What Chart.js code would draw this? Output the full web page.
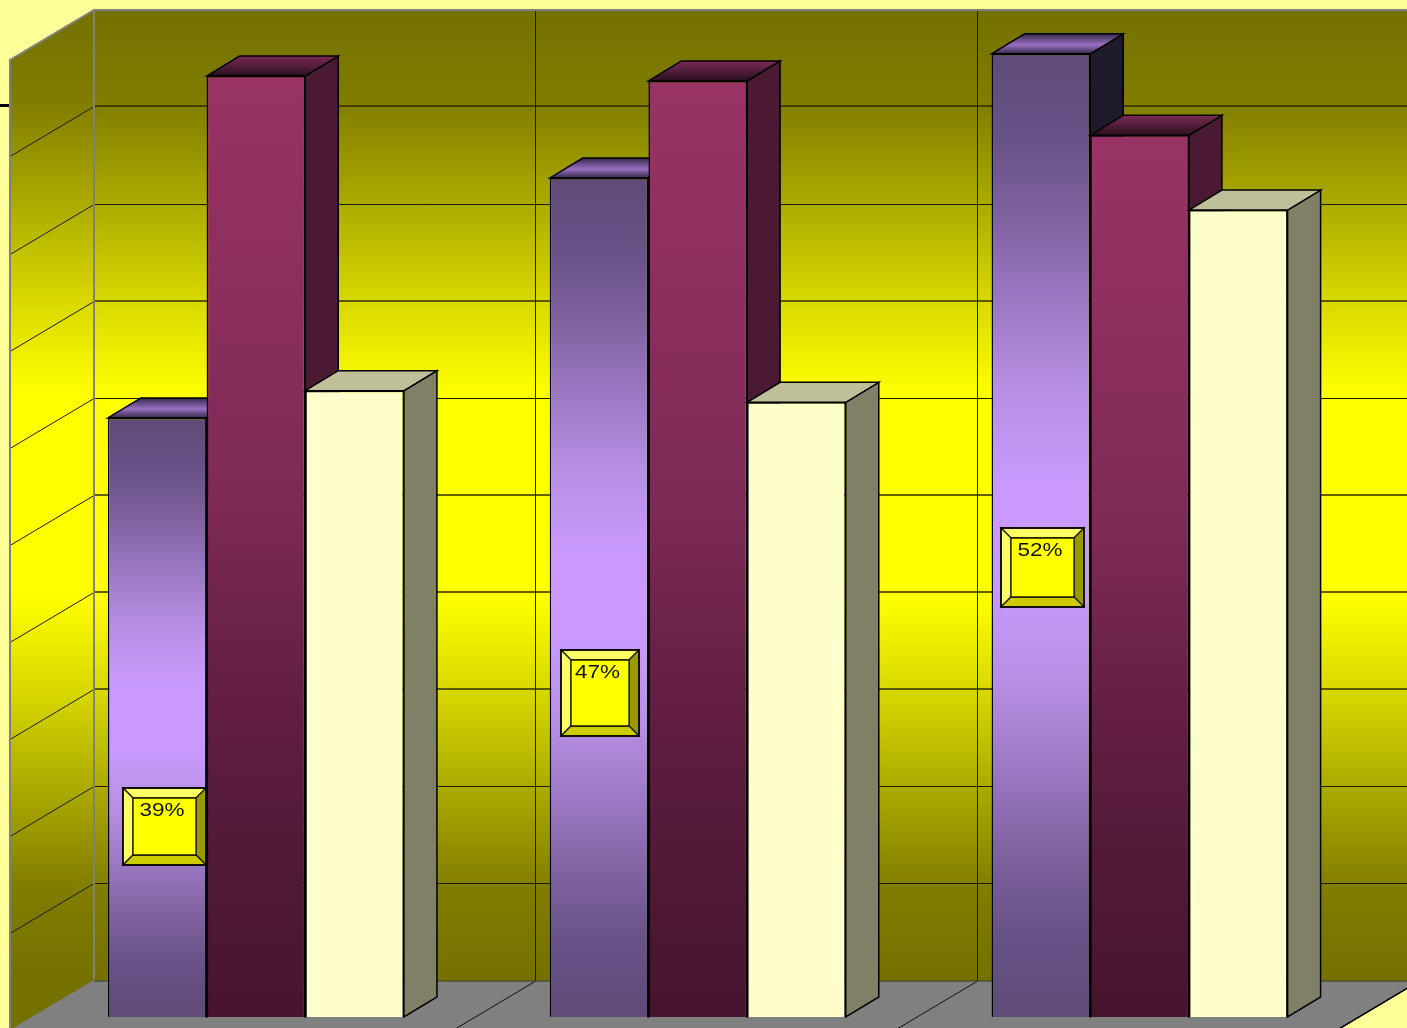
<!DOCTYPE html>
<html><head><meta charset="utf-8">
<style>html,body{margin:0;padding:0;background:#ffff99;overflow:hidden}canvas{display:block}</style>
<script src="https://cdn.jsdelivr.net/npm/chart.js@4"></script>
</head><body><canvas id="c" width="1407" height="1028"></canvas>
<script>
// Data (bar heights on the 0-100 grid of ten wall bands)
const categories = ["A", "B", "C"];
const seriesPurple = [61.7, 86.4, 99.2];
const seriesMaroon = [96.9, 96.4, 90.8];
const seriesCream  = [64.5, 63.3, 83.1];
const purpleLabels = ["39%", "47%", "52%"];
const gridValues = [0,10,20,30,40,50,60,70,80,90,100];
const softGridValues = [30,40,50,70,90];
// Value position of the label boxes' top and bottom edges
const labelTopValues = [23.58, 37.8, 50.36];
const labelBottomValues = [15.65, 28.94, 42.22];

const BACK = {dx:59, dy:-36};   // front plane -> back wall
const WALL = {dx:-84, dy:50};   // back wall -> front of the side wall
const BAR  = {dx:33, dy:-20};   // bar depth
const WALL_STOPS = [[0,'#747100'],[.093,'#807c00'],[.196,'#aaa900'],[.299,'#d8d800'],[.396,'#ffff00'],
                    [.604,'#ffff00'],[.701,'#d8d800'],[.804,'#aaa900'],[.907,'#807c00'],[1,'#747100']];
const PURPLE_STOPS = [[0,'#5f4a78'],[.09,'#695287'],[.17,'#7f62a0'],[.255,'#9a78c2'],[.35,'#b78fe4'],[.44,'#c899fc'],[.5,'#cc99ff'],
                      [.56,'#c899fc'],[.65,'#b78fe4'],[.745,'#9a78c2'],[.83,'#7f62a0'],[.91,'#695287'],[1,'#5f4a78']];
const MAROON_STOPS = [[0,'#993366'],[.45,'#7e2a56'],[.65,'#641f44'],[.82,'#521a37'],[1,'#47142e']];

function wallGrad(ctx, y0, y1){
  const g = ctx.createLinearGradient(0,y0,0,y1);
  WALL_STOPS.forEach(s=>g.addColorStop(s[0],s[1]));
  return g;
}
function poly(ctx, pts){ctx.beginPath();pts.forEach((p,i)=>i?ctx.lineTo(p[0],p[1]):ctx.moveTo(p[0],p[1]));ctx.closePath();}

function drawRoom(chart){
  const {ctx, scales:{x,y}} = chart;
  const top = y.getPixelForValue(100)+BACK.dy, bot = y.getPixelForValue(0)+BACK.dy;
  const halfCat = (x.getPixelForValue(1)-x.getPixelForValue(0))/2;
  const edges = [x.getPixelForValue(0)-halfCat, x.getPixelForValue(1)-halfCat, x.getPixelForValue(2)-halfCat, x.getPixelForValue(2)+halfCat].map(v=>v+BACK.dx);
  const l = edges[0], r = edges[3];
  ctx.save();
  ctx.fillStyle = wallGrad(ctx, top, bot);
  ctx.fillRect(l, top, r-l, bot-top);
  poly(ctx, [[l,top],[l,bot],[l+WALL.dx,bot+WALL.dy],[l+WALL.dx,top+WALL.dy]]);
  ctx.fill();
  ctx.fillStyle = '#808080';
  poly(ctx, [[l,bot],[r,bot],[r+WALL.dx,bot+WALL.dy],[l+WALL.dx,bot+WALL.dy]]);
  ctx.fill();
  gridValues.forEach(v=>{
    if(v===0||v===100) return;
    const n = Math.round(y.getPixelForValue(v)+BACK.dy-.6);
    const soft = softGridValues.includes(v);
    const p = soft ? n : n+.5;
    ctx.lineWidth = soft ? 2 : 1;
    ctx.strokeStyle = soft ? 'rgba(40,38,0,.72)' : '#1c1a00';
    ctx.beginPath();ctx.moveTo(l,p);ctx.lineTo(r,p);ctx.stroke();
    ctx.lineWidth = 1; ctx.strokeStyle = '#1c1a00';
    ctx.beginPath();ctx.moveTo(l+WALL.dx,n+.5+WALL.dy);ctx.lineTo(l,n+.5);ctx.stroke();
  });
  edges.slice(1).forEach((e,i)=>{
    ctx.lineWidth = 1;
    ctx.strokeStyle = '#1c1a00';
    const vx = Math.floor(e)+.5;
    ctx.beginPath();ctx.moveTo(vx,top);ctx.lineTo(vx,bot);ctx.stroke();
    ctx.strokeStyle = '#111';
    ctx.beginPath();ctx.moveTo(e,bot);ctx.lineTo(e+WALL.dx,bot+WALL.dy);ctx.stroke();
  });
  ctx.strokeStyle='#808080'; ctx.lineWidth=2;
  ctx.beginPath();
  ctx.moveTo(r,top);ctx.lineTo(l,top);ctx.lineTo(l+WALL.dx,top+WALL.dy);ctx.lineTo(l+WALL.dx,bot+WALL.dy);
  ctx.moveTo(l,top);ctx.lineTo(l,bot);ctx.lineTo(l+WALL.dx,bot+WALL.dy);
  ctx.stroke();
  ctx.strokeStyle='rgba(70,70,40,.8)'; ctx.lineWidth=1.5;
  ctx.beginPath();ctx.moveTo(l,bot);ctx.lineTo(r,bot);ctx.stroke();
  ctx.strokeStyle='#000'; ctx.lineWidth=1.5;
  ctx.beginPath();ctx.moveTo(r,bot);ctx.lineTo(r+WALL.dx,bot+WALL.dy);ctx.stroke();
  ctx.fillStyle='#000';
  ctx.fillRect(0, Math.round(y.getPixelForValue(90)+BACK.dy)-3, l+WALL.dx-1, 3);
  ctx.restore();
}

function drawBarDepth(chart, index){
  const ctx = chart.ctx, meta = chart.getDatasetMeta(index), ds = chart.data.datasets[index];
  ctx.save();
  ctx.lineWidth = 1.5; ctx.strokeStyle = '#000'; ctx.lineJoin='miter';
  meta.data.forEach(b=>{
    const L=b.x-b.width/2, R=b.x+b.width/2, T=b.y, B=b.base;
    poly(ctx, [[R,T],[R+BAR.dx,T+BAR.dy],[R+BAR.dx,B+BAR.dy],[R,B]]);
    ctx.fillStyle = ds.sideColor; ctx.fill(); ctx.stroke();
    poly(ctx, [[L,T],[L+BAR.dx,T+BAR.dy],[R+BAR.dx,T+BAR.dy],[R,T]]);
    if(ds.topStops){
      const g = ctx.createLinearGradient(0,T+BAR.dy,0,T);
      ds.topStops.forEach(s=>g.addColorStop(s[0],s[1]));
      ctx.fillStyle = g;
    } else ctx.fillStyle = ds.topColor;
    ctx.fill(); ctx.stroke();
  });
  ctx.restore();
}

function drawLabels(chart){
  const {ctx, scales:{y}} = chart;
  const meta = chart.getDatasetMeta(0);
  const insets = [1, 9.5, 6.5];
  const widths = [83, 78, 83];
  ctx.save();
  purpleLabels.forEach((txt,i)=>{
    const bar = meta.data[i];
    const R = Math.round(Math.round(bar.x + bar.width/2) - insets[i]);
    const L = R - widths[i];
    const T = Math.round(y.getPixelForValue(labelTopValues[i]));
    const B = Math.round(y.getPixelForValue(labelBottomValues[i]));
    const bev = 10;
    const face = (pts,c)=>{poly(ctx,pts);ctx.fillStyle=c;ctx.fill();ctx.lineWidth=1.3;ctx.strokeStyle='#1a1a00';ctx.stroke();};
    face([[L,T],[R,T],[R-bev,T+bev],[L+bev,T+bev]],'#ffff66');
    face([[L,T],[L+bev,T+bev],[L+bev,B-bev],[L,B]],'#ffff66');
    face([[R,T],[R,B],[R-bev,B-bev],[R-bev,T+bev]],'#999900');
    face([[L,B],[L+bev,B-bev],[R-bev,B-bev],[R,B]],'#cccc00');
    face([[L+bev,T+bev],[R-bev,T+bev],[R-bev,B-bev],[L+bev,B-bev]],'#ffff00');
    ctx.lineWidth=1.5;ctx.strokeStyle='#000';ctx.strokeRect(L,T,widths[i],B-T);
    ctx.save();
    ctx.translate((L+R)/2-2.5, T+23);
    ctx.scale(1.25,1);
    ctx.fillStyle='#111';
    ctx.font='18px "Liberation Sans", Arial, sans-serif';
    ctx.textAlign='center'; ctx.textBaseline='middle';
    ctx.fillText(txt,0,0);
    ctx.restore();
  });
  ctx.restore();
}

const room = {
  id:'room',
  beforeDatasetsDraw(chart){
    drawRoom(chart);
    // left-to-right painter's order, each bar's depth faces just before its front
    chart.data.datasets.forEach((d,i)=>{
      drawBarDepth(chart,i);
      chart.getDatasetMeta(i).controller.draw();
    });
    drawLabels(chart);
    return false;
  }
};

function barGrad(stops){
  return function(c){
    if(c.type!=='data' || !c.chart.chartArea) return stops[0][1];
    const y = c.chart.scales.y;
    const g = c.chart.ctx.createLinearGradient(0,y.getPixelForValue(c.raw),0,y.getPixelForValue(0));
    stops.forEach(s=>g.addColorStop(s[0],s[1]));
    return g;
  };
}

new Chart(document.getElementById('c'),{
  type:'bar',
  plugins:[room],
  data:{labels:categories,datasets:[
    {data:seriesPurple,backgroundColor:barGrad(PURPLE_STOPS),
     borderColor:'#000',borderWidth:1.5,sideColor:'#1e1a2b',
     topStops:[[0,'#33294a'],[.55,'#9a70c2'],[1,'#33294a']],barPercentage:1,categoryPercentage:.67},
    {data:seriesMaroon,backgroundColor:barGrad(MAROON_STOPS),
     borderColor:'#000',borderWidth:1.5,sideColor:'#4a1a33',
     topStops:[[0,'#7a2a55'],[1,'#2a1020']],barPercentage:1,categoryPercentage:.67},
    {data:seriesCream,backgroundColor:'#ffffcc',
     borderColor:'#000',borderWidth:1.5,sideColor:'#808066',topColor:'#bfbf99',barPercentage:1,categoryPercentage:.67}
  ]},
  options:{
    responsive:false,animation:false,
    layout:{padding:{left:35,right:46.5,top:46,bottom:11}},
    plugins:{legend:{display:false},tooltip:{enabled:false}},
    scales:{
      x:{display:false,grid:{display:false}},
      y:{display:false,min:0,max:100,grid:{display:false}}
    }
  }
});
</script></body></html>
